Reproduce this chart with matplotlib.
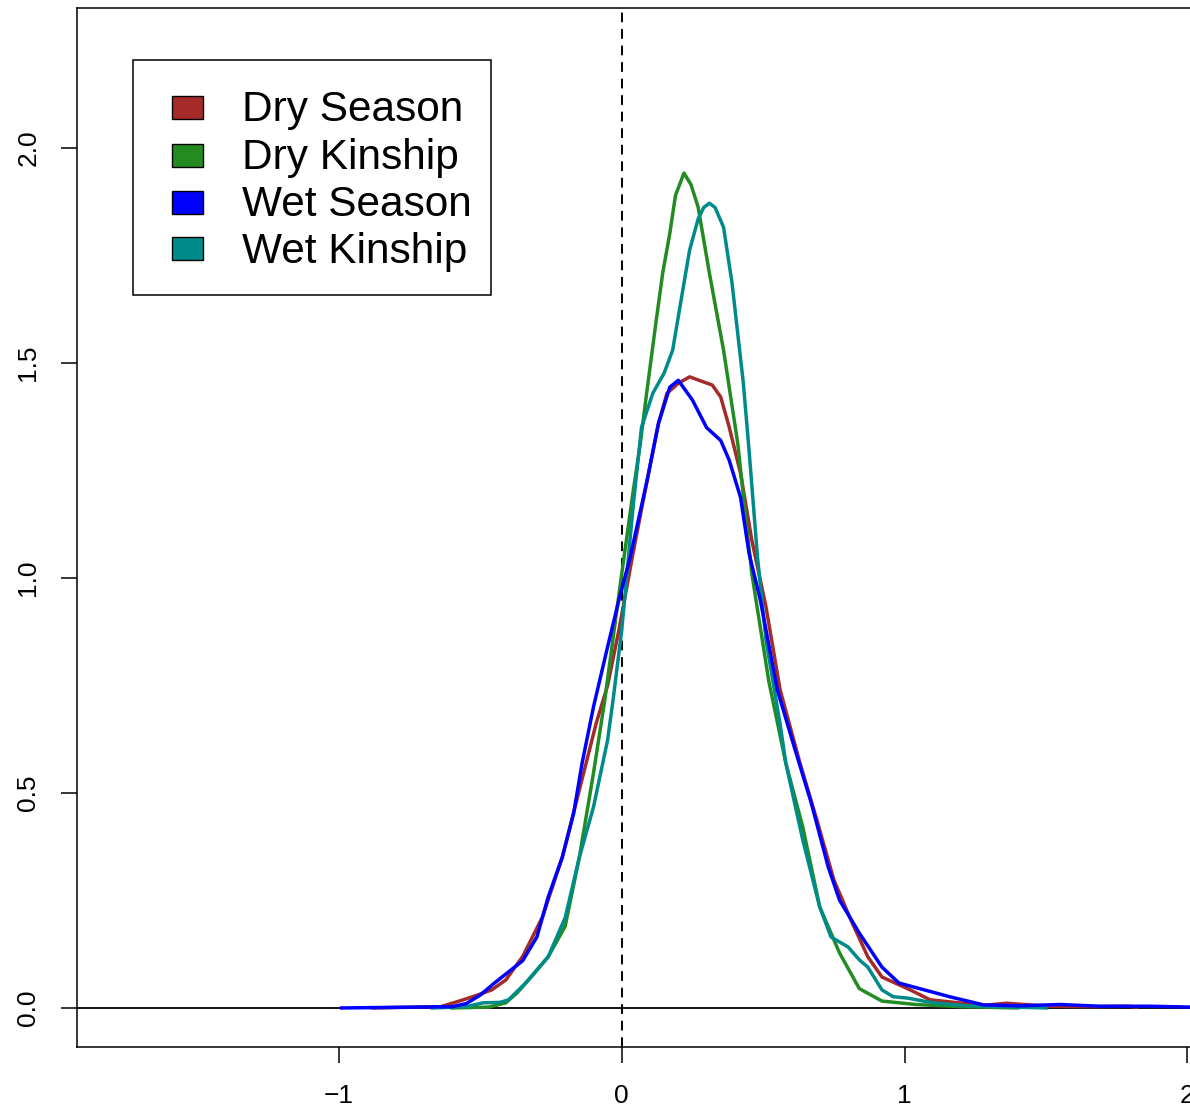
import matplotlib.pyplot as plt
from matplotlib.patches import Rectangle

plt.rcParams['font.family'] = ['Liberation Sans', 'DejaVu Sans']

# Density curves
dry_season_x = [-0.88, -0.64, -0.56, -0.51, -0.46, -0.41, -0.35, -0.28, -0.21, -0.15,
                -0.09, -0.05, -0.01, 0.04, 0.09, 0.13, 0.16, 0.20, 0.24, 0.29,
                0.32, 0.35, 0.38, 0.42, 0.46, 0.51, 0.56, 0.63, 0.69, 0.75,
                0.81, 0.87, 0.92, 1.02, 1.09, 1.19, 1.28, 1.36, 1.51, 1.66, 1.79, 1.82]
dry_season_y = [0.0, 0.003, 0.019, 0.03, 0.042, 0.065, 0.12, 0.212, 0.351, 0.507,
                0.663, 0.75, 0.879, 1.058, 1.228, 1.36, 1.43, 1.453, 1.468, 1.456,
                1.449, 1.421, 1.351, 1.244, 1.088, 0.933, 0.74, 0.57, 0.437, 0.298,
                0.205, 0.119, 0.072, 0.042, 0.019, 0.012, 0.006, 0.011, 0.004, 0.003, 0.004, 0.002]

dry_kinship_x = [-0.60, -0.47, -0.41, -0.37, -0.32, -0.26, -0.20, -0.15, -0.10, -0.06,
                 0.00, 0.04, 0.065, 0.09, 0.12, 0.145, 0.17, 0.19, 0.22, 0.245,
                 0.27, 0.31, 0.36, 0.41, 0.46, 0.52, 0.58, 0.64, 0.70, 0.77,
                 0.84, 0.92, 1.04, 1.20, 1.40]
dry_kinship_y = [0.0, 0.002, 0.012, 0.035, 0.072, 0.119, 0.19, 0.35, 0.546, 0.716,
                 1.01, 1.20, 1.31, 1.44, 1.59, 1.71, 1.802, 1.89, 1.942, 1.915,
                 1.863, 1.709, 1.53, 1.314, 1.01, 0.76, 0.57, 0.421, 0.235, 0.128,
                 0.045, 0.016, 0.008, 0.003, 0.0]

wet_season_x = [-0.99, -0.60, -0.55, -0.50, -0.45, -0.40, -0.35, -0.30, -0.26, -0.21,
                -0.17, -0.14, -0.10, -0.05, -0.01, 0.03, 0.09, 0.13, 0.17, 0.20,
                0.25, 0.30, 0.35, 0.38, 0.42, 0.45, 0.49, 0.55, 0.61, 0.67,
                0.73, 0.77, 0.84, 0.92, 0.98, 1.07, 1.16, 1.28, 1.41, 1.55, 1.69, 1.87, 2.01]
wet_season_y = [0.0, 0.003, 0.01, 0.03, 0.058, 0.084, 0.11, 0.165, 0.258, 0.351,
                0.453, 0.57, 0.70, 0.84, 0.949, 1.049, 1.228, 1.36, 1.444, 1.46,
                1.414, 1.35, 1.32, 1.274, 1.188, 1.058, 0.949, 0.74, 0.607, 0.477,
                0.328, 0.251, 0.174, 0.095, 0.058, 0.042, 0.026, 0.007, 0.005, 0.008, 0.004, 0.004, 0.002]

wet_kinship_x = [-0.67, -0.55, -0.49, -0.43, -0.40, -0.34, -0.26, -0.20, -0.15, -0.10,
                 -0.05, -0.03, 0.00, 0.04, 0.07, 0.11, 0.15, 0.18, 0.21, 0.24,
                 0.27, 0.29, 0.31, 0.33, 0.36, 0.39, 0.43, 0.45, 0.48, 0.51,
                 0.56, 0.58, 0.64, 0.70, 0.74, 0.80, 0.84, 0.87, 0.92, 0.96,
                 1.01, 1.10, 1.22, 1.34, 1.50]
wet_kinship_y = [0.0, 0.003, 0.012, 0.013, 0.019, 0.058, 0.119, 0.21, 0.35, 0.467,
                 0.623, 0.72, 0.879, 1.165, 1.351, 1.43, 1.477, 1.53, 1.647, 1.763,
                 1.835, 1.862, 1.872, 1.862, 1.816, 1.686, 1.453, 1.298, 1.049, 0.856,
                 0.66, 0.57, 0.391, 0.235, 0.165, 0.142, 0.112, 0.095, 0.042, 0.026,
                 0.023, 0.012, 0.005, 0.003, 0.0]

labels = ["Dry Season", "Dry Kinship", "Wet Season", "Wet Kinship"]
colors = ["#A52A2A", "#228B22", "#0000FF", "#008B8B"]

x_ticks = [-1, 0, 1, 2]
x_ticklabels = ["\u22121", "0", "1", "2"]
y_ticks = [0.0, 0.5, 1.0, 1.5, 2.0]
y_ticklabels = ["0.0", "0.5", "1.0", "1.5", "2.0"]

W, H = 1190, 1112
fig = plt.figure(figsize=(W / 100, H / 100), dpi=100)
# axes box runs past the right edge of the figure, like the cropped original
ax = fig.add_axes([0.0647, 0.0585, 0.95, 0.9343])

ax.axhline(0, color='black', linewidth=1.3, zorder=1)
ax.axvline(0, color='black', linewidth=1.4, linestyle=(0, (5, 3.5)), zorder=1)

# drawing order: dry season, dry kinship, wet kinship, wet season on top
lw = 2.5
ax.plot(dry_season_x, dry_season_y, color=colors[0], linewidth=lw, zorder=2, solid_joinstyle='round')
ax.plot(dry_kinship_x, dry_kinship_y, color=colors[1], linewidth=lw, zorder=3, solid_joinstyle='round')
ax.plot(wet_kinship_x, wet_kinship_y, color=colors[3], linewidth=lw, zorder=4, solid_joinstyle='round')
ax.plot(wet_season_x, wet_season_y, color=colors[2], linewidth=lw, zorder=5, solid_joinstyle='round')

ax.set_xlim(-1.926, 2.071)
ax.set_ylim(-0.0907, 2.326)

ax.set_xticks(x_ticks)
ax.set_xticklabels(x_ticklabels)
ax.set_yticks(y_ticks)
ax.set_yticklabels(y_ticklabels, rotation=90, va='center')
ax.tick_params(axis='both', length=11.5, width=1.1, labelsize=19, pad=15)

for s in ax.spines.values():
    s.set_linewidth(1.1)

# legend box drawn by hand (pixel layout of the original, figure coords)
def fx(px):
    return px / W

def fy(py):
    return 1 - py / H

fig.patches.append(Rectangle((fx(133), fy(295)), fx(491) - fx(133), fy(60) - fy(295),
                             transform=fig.transFigure, facecolor='white',
                             edgecolor='black', linewidth=1.1, zorder=10))
row_y = [108, 155, 202, 249]
for lab, col, ry in zip(labels, colors, row_y):
    fig.patches.append(Rectangle((fx(172), fy(ry + 11.5)), fx(203) - fx(172), 23 / H,
                                 transform=fig.transFigure, facecolor=col,
                                 edgecolor='black', linewidth=1.0, zorder=11))
    fig.text(fx(242), fy(ry + 13.5), lab, fontsize=30.5, ha='left', va='baseline', zorder=12)

fig.savefig("out.png", dpi=100)
